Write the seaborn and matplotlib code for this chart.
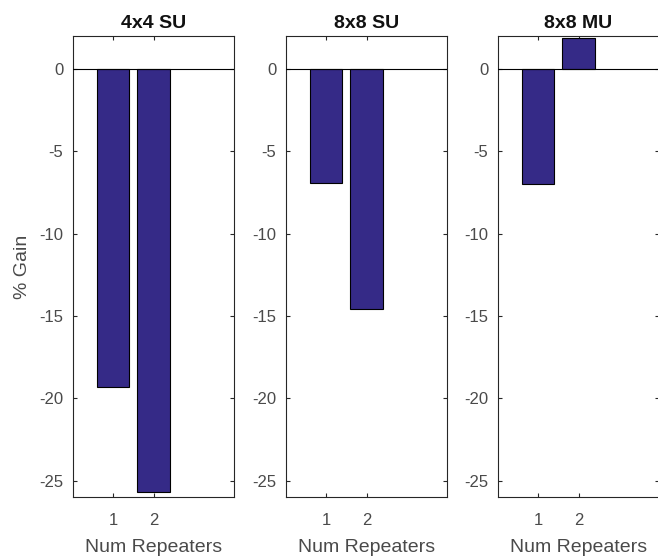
import matplotlib
matplotlib.use("Agg")
import matplotlib.pyplot as plt
import seaborn as sns

# data
titles = ["4x4 SU", "8x8 SU", "8x8 MU"]
repeaters = [1, 2]
gain_4x4_su = [-19.3, -25.7]
gain_8x8_su = [-6.9, -14.6]
gain_8x8_mu = [-7.0, 1.9]
yticks = [0, -5, -10, -15, -20, -25]

sns.set_theme(style="white")
plt.rcParams["font.family"] = ["Liberation Sans", "DejaVu Sans"]
plt.rcParams["axes.unicode_minus"] = False

fig = plt.figure(figsize=(6.58, 5.57), dpi=100)
W, H = 658, 557
lefts = [73, 286, 498]
axes = [fig.add_axes([l / W, 1 - 497 / H, 161 / W, (497 - 36) / H]) for l in lefts]

bar_color = "#352a87"
text_color = "#4a4a4a"
for ax, title, vals in zip(axes, titles, [gain_4x4_su, gain_8x8_su, gain_8x8_mu]):
    sns.barplot(x=repeaters, y=vals, native_scale=True, width=0.8,
                color=bar_color, edgecolor="black", linewidth=0.8,
                saturation=1, ax=ax)
    ax.axhline(0, color="black", lw=0.8, zorder=3)
    ax.set_xlim(0, 4)
    ax.set_ylim(-26, 2)
    ax.set_xticks(repeaters)
    ax.set_yticks(yticks)
    ax.tick_params(direction="in", length=3, width=0.8, color="#262626",
                   labelsize=12, labelcolor=text_color,
                   top=True, right=True, bottom=True, left=True)
    ax.tick_params(axis="x", pad=11.5)
    ax.tick_params(axis="y", pad=7)
    for s in ax.spines.values():
        s.set_color("#262626")
        s.set_linewidth(0.8)
        s.set_visible(True)
    ax.set_title(title, fontsize=14, fontweight="bold", color="#111111", pad=6)
    ax.set_xlabel("Num Repeaters", fontsize=14, color=text_color, labelpad=8)
    ax.set_ylabel("")

axes[0].set_ylabel("% Gain", fontsize=14, color=text_color, labelpad=6)

fig.savefig("out.png", dpi=100)
